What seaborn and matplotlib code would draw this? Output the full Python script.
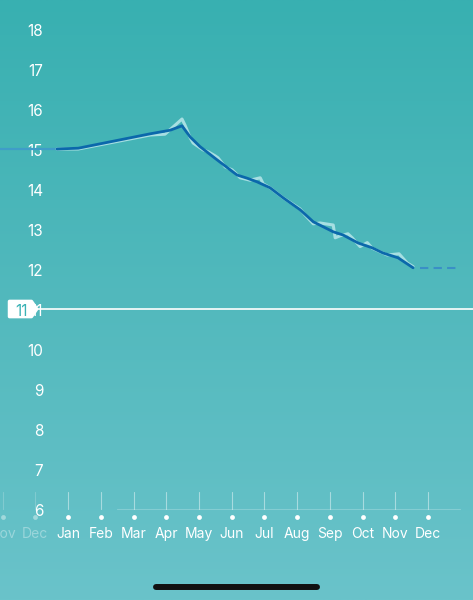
import numpy as np
import pandas as pd
import seaborn as sns
import matplotlib.pyplot as plt
from matplotlib.colors import LinearSegmentedColormap
from matplotlib.patches import Polygon
from matplotlib.lines import Line2D

# months on x axis, Jan = 0
month_labels = ["Nov", "Dec", "Jan", "Feb", "Mar", "Apr", "May", "Jun",
                "Jul", "Aug", "Sep", "Oct", "Nov", "Dec"]
month_pos = list(range(-2, 12))
faded_months = 2  # first two are previous year

y_ticks = [6, 7, 8, 9, 10, 11, 12, 13, 14, 15, 16, 17, 18]
goal = 11

history_x = [-2.1, -0.34]
history_y = [15.0, 15.0]

trend_x = [-0.34, 0.31, 2.51, 3.12, 3.48, 3.73, 4.03, 4.55, 5.16, 5.47, 5.77,
           6.17, 6.57, 7.09, 7.49, 8.10, 8.40, 8.86, 9.29, 9.62, 10.08, 10.54]
trend_y = [15.00, 15.02, 15.38, 15.47, 15.58, 15.30, 15.06, 14.73, 14.35, 14.27, 14.18,
           14.03, 13.78, 13.48, 13.18, 12.93, 12.85, 12.65, 12.53, 12.40, 12.28, 12.03]

raw_x = [-0.34, 0.31, 2.51, 2.96, 3.48, 3.57, 3.73, 3.82, 4.12, 4.28, 4.49, 4.58,
         4.80, 5.01, 5.26, 5.56, 5.87, 5.96, 6.17, 6.57, 7.09, 7.24, 7.49, 7.70,
         8.10, 8.16, 8.31, 8.55, 8.68, 8.92, 9.14, 9.29, 9.75, 10.11, 10.36, 10.54]
raw_y = [15.00, 15.00, 15.35, 15.37, 15.75, 15.60, 15.28, 15.15, 14.98, 14.93, 14.83, 14.78,
         14.55, 14.48, 14.28, 14.22, 14.28, 14.13, 14.03, 13.78, 13.50, 13.35, 13.13, 13.15,
         13.10, 12.78, 12.83, 12.88, 12.78, 12.56, 12.66, 12.52, 12.35, 12.38, 12.15, 12.06]

forecast_x = [10.75, 11.92]
forecast_y = [12.03, 12.03]

sns.set_style("white")
plt.rcParams['font.family'] = ['Inter', 'DejaVu Sans']

fig = plt.figure(figsize=(4.73, 6.0), dpi=100)
ax = fig.add_axes([0, 0, 1, 1])
xlim = (-2.08, 12.37)
ylim = (3.725, 18.725)
ax.set_xlim(*xlim)
ax.set_ylim(*ylim)
ax.axis("off")

# background gradient
cmap = LinearSegmentedColormap.from_list("bg", ["#6ac3ca", "#52b9bd", "#38b0b1"])
grad = np.linspace(0, 1, 256).reshape(-1, 1)
ax.imshow(grad, extent=[xlim[0], xlim[1], ylim[0], ylim[1]], origin="lower",
          aspect="auto", cmap=cmap, zorder=0)

# y labels
for v in y_ticks:
    ax.text(-0.76, v - 0.05, str(v), color="white", fontsize=11, ha="right", va="center",
            zorder=2)

# x axis: ticks, dots, labels
ax.plot([1.5, 11.98], [6, 6], color="white", alpha=0.22, lw=0.8, zorder=1)
for i, (m, lab) in enumerate(zip(month_pos, month_labels)):
    a = 0.35 if i < faded_months else 1.0
    ax.plot([m, m], [6.0, 6.43], color="white", alpha=0.2 if i < faded_months else 0.45,
            lw=0.8, zorder=1)
    ax.text(m, 5.37, lab, color="white", alpha=a, fontsize=10, ha="center", va="center")
dots = pd.DataFrame({"m": month_pos, "y": 5.8,
                     "a": [0.4] * faded_months + [1.0] * (len(month_pos) - faded_months)})
sns.scatterplot(data=dots[dots.a < 1], x="m", y="y", color="white", alpha=0.4, s=12,
                linewidth=0, ax=ax, zorder=3)
sns.scatterplot(data=dots[dots.a == 1], x="m", y="y", color="white", s=12,
                linewidth=0, ax=ax, zorder=3)

# goal line and tag
ax.plot([-0.93, xlim[1]], [goal, goal], color="white", lw=1.2, zorder=4)
tag = Polygon([[-1.79, 11.19], [-1.12, 11.19], [-0.96, goal], [-1.12, 10.81], [-1.79, 10.81]],
              closed=True, facecolor="white", edgecolor="white", lw=2.5, joinstyle="round",
              zorder=5)
ax.add_patch(tag)
ax.text(-1.43, goal - 0.05, str(goal), color="#3ab2b5", fontsize=11, ha="center", va="center",
        zorder=6)

# data lines
sns.lineplot(x=history_x, y=history_y, color="#3f9dc8", lw=1.6, ax=ax, zorder=6)
sns.lineplot(x=raw_x, y=raw_y, color="#a6dfe2", lw=2.2, ax=ax, zorder=6)
sns.lineplot(x=trend_x, y=trend_y, color="#0b68ab", lw=2.0, ax=ax, zorder=7)
sns.lineplot(x=forecast_x, y=forecast_y, color="#3a8fc6", lw=1.5, ax=ax, zorder=7,
             dashes=False, linestyle=(0, (4, 2.5)))
ax.set_xlim(*xlim)
ax.set_ylim(*ylim)
ax.axis("off")

# home indicator
fig.add_artist(Line2D([156 / 473, 317 / 473], [1 - 587 / 600] * 2, transform=fig.transFigure,
                      color="#111111", lw=4.3, solid_capstyle="round"))

fig.savefig("out.png", dpi=100)
